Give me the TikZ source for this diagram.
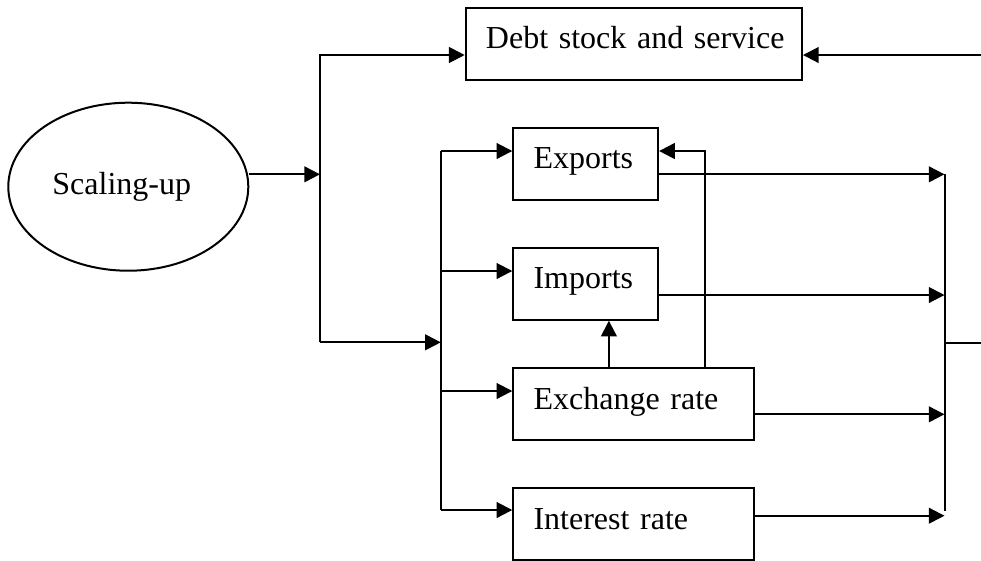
\documentclass[tikz,border=0pt]{standalone}
\usepackage{fontspec}
\setmainfont{Liberation Serif}
\usetikzlibrary{arrows.meta,shapes.geometric,calc}
\begin{document}
\begin{tikzpicture}[x=0.375pt,y=-0.375pt,
  line width=0.75pt,
  font=\fontsize{12}{14}\selectfont,
  box/.style={draw, anchor=north west, inner xsep=7.6pt, inner ysep=0pt, align=left,
    text height=15.4pt, text depth=11.6pt},
  arr/.style={-{Triangle[length=5.9pt,width=5.9pt]}},
]
\useasboundingbox (0,0) rectangle (981,560);
% nodes
\node[draw, ellipse, minimum width=90pt, minimum height=63pt, inner sep=0pt] (sc) at (128.3,186.7) {\hspace*{-4.9pt}Scaling-up};
\node[box, text width=110.9pt] (debt) at (464.7,6.7) {\mbox{Debt stock and service}};
\node[box, text width=39.1pt] (exp) at (512.3,126.7) {Exports};
\node[box, text width=39.1pt] (imp) at (512.3,246.7) {Imports};
\node[box, text width=75.2pt] (exc) at (512.3,367.3) {\mbox{Exchange rate}};
\node[box, text width=75.2pt] (int) at (512.3,487) {\mbox{Interest rate}};
% coordinates
\coordinate (j1) at (320,174.3);
\coordinate (b1bot) at (320,342.3);
\coordinate (b2) at (440.8,342.3);
\coordinate (rb) at (944.5,342.7);
\coordinate (rend) at (981,342.7);
\coordinate (rbbot) at (944.5,511);
\coordinate (dend) at (981,55);
\coordinate (debtin) at ($(debt.north west)+(0,48.3)$);
\coordinate (expin) at ($(exp.north west)+(0,24.3)$);
\coordinate (impin) at ($(imp.north west)+(0,24.3)$);
\coordinate (excin) at ($(exc.north west)+(0,23.7)$);
\coordinate (intin) at ($(int.north west)+(0,23)$);
\coordinate (expout) at ($(exp.north east)+(0,47.6)$);
\coordinate (impout) at ($(imp.north east)+(0,48.3)$);
\coordinate (excout) at ($(exc.north east)+(0,47)$);
\coordinate (intout) at ($(int.north east)+(0,28.7)$);
\coordinate (fb) at ($(exc.north west)+(192.9,0)$);
\coordinate (ei) at ($(exc.north west)+(96.6,0)$);
% connectors
\draw[arr] (j1 -| sc.east) -- (j1);
\draw[arr] (b1bot) |- (debtin);
\draw[arr] (b1bot) -- (b2);
\draw (b2 |- expin) -- (b2 |- intin);
\draw[arr] (b2 |- expin) -- (expin);
\draw[arr] (b2 |- impin) -- (impin);
\draw[arr] (b2 |- excin) -- (excin);
\draw[arr] (b2 |- intin) -- (intin);
\draw[arr] (expout) -- (expout -| rb);
\draw[arr] (impout) -- (impout -| rb);
\draw[arr] (excout) -- (excout -| rb);
\draw[arr] (intout) -- (intout -| rb);
\draw (rb |- expout) -- (rbbot);
\draw (rb) -- (rend);
\draw[arr] (fb) |- (expin -| exp.east);
\draw[arr] (ei) -- (ei |- imp.south);
\draw[arr] (dend) -- (dend -| debt.east);
\end{tikzpicture}
\end{document}
